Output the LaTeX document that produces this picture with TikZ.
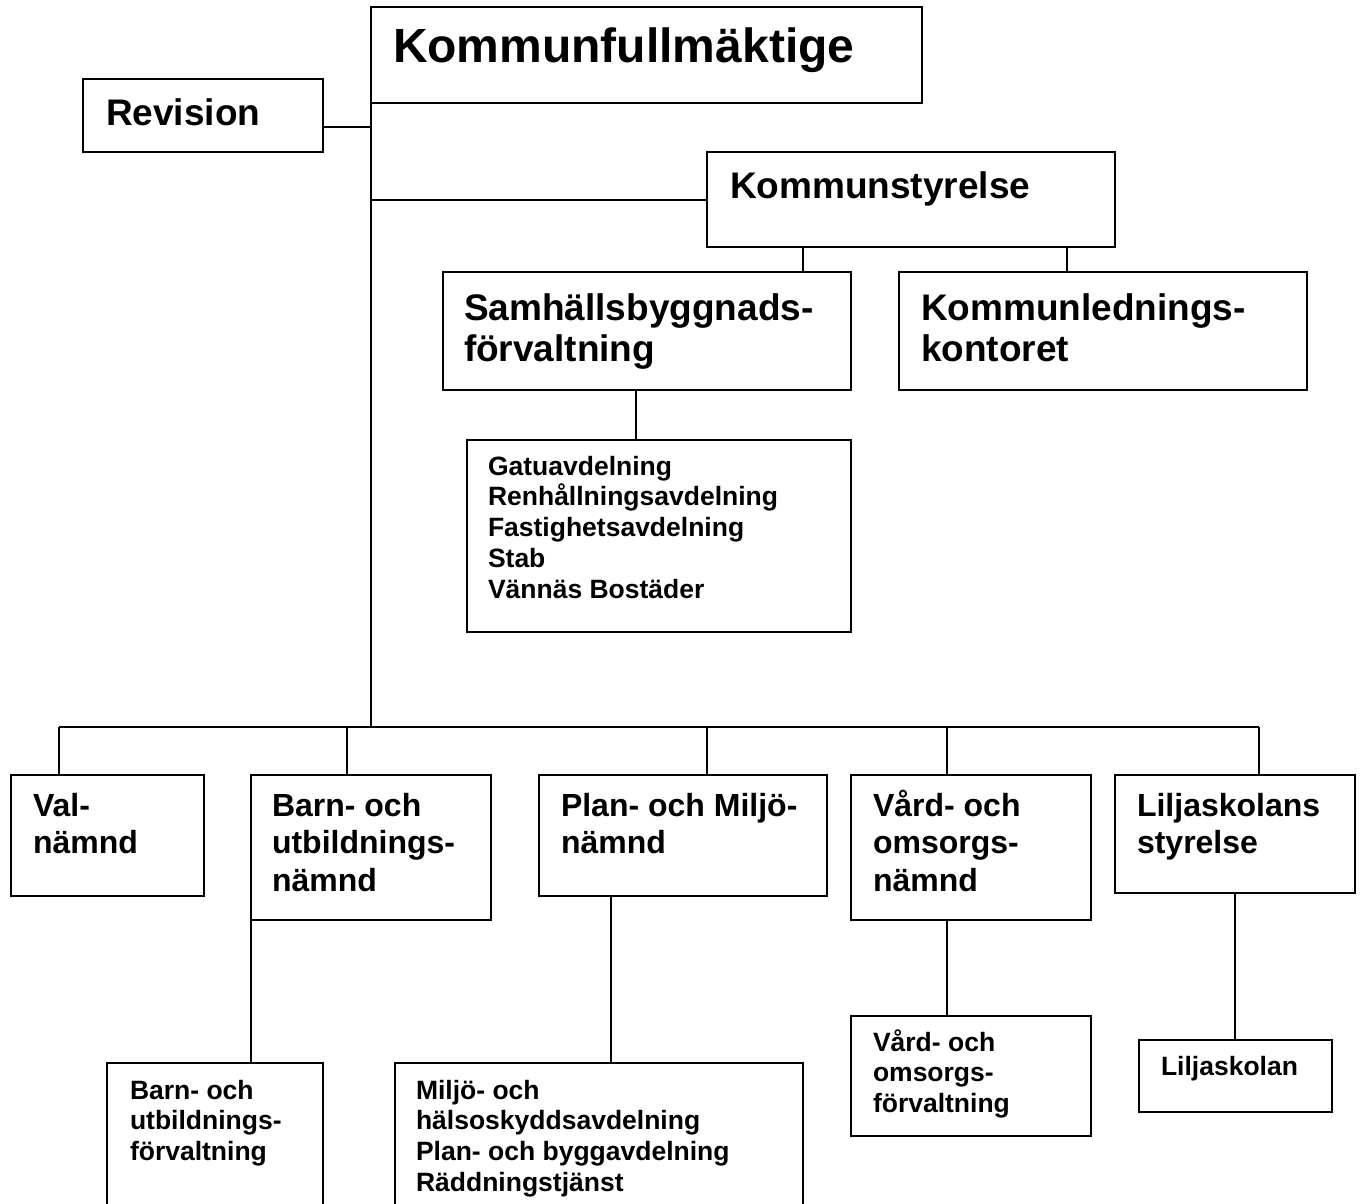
\documentclass[tikz,border=0pt]{standalone}
\usepackage{fontspec}
\setmainfont{Liberation Sans}
\begin{document}
\begin{tikzpicture}[x=1pt,y=-1pt,
  box/.style={draw, line width=2pt, rectangle, inner sep=0pt, outer sep=0pt, anchor=north west},
  big/.style={font=\bfseries\fontsize{48}{55}\selectfont},
  lvl/.style={font=\bfseries\fontsize{37}{41.4}\selectfont},
  mid/.style={font=\bfseries\fontsize{32}{37.5}\selectfont},
  sml/.style={font=\bfseries\fontsize{26.5}{30.8}\selectfont},
  lbl/.style={inner sep=0pt, outer sep=0pt, anchor=base west, align=left},
  conn/.style={line width=2pt}]
\useasboundingbox (0,0) rectangle (1363,1204);
\clip (0,0) rectangle (1363,1204);
% boxes
\node[box, minimum width=551pt, minimum height=96pt]  (kf)    at (371,7)    {};
\node[box, minimum width=240pt, minimum height=73pt]  (rev)   at (83,79)    {};
\node[box, minimum width=408pt, minimum height=95pt]  (ks)    at (707,152)  {};
\node[box, minimum width=408pt, minimum height=118pt] (samh)  at (443,272)  {};
\node[box, minimum width=408pt, minimum height=118pt] (kl)    at (899,272)  {};
\node[box, minimum width=384pt, minimum height=192pt] (gatu)  at (467,440)  {};
\node[box, minimum width=193pt, minimum height=121pt] (val)   at (11,775)   {};
\node[box, minimum width=240pt, minimum height=145pt] (barn)  at (251,775)  {};
\node[box, minimum width=288pt, minimum height=121pt] (plan)  at (539,775)  {};
\node[box, minimum width=240pt, minimum height=145pt] (vard)  at (851,775)  {};
\node[box, minimum width=240pt, minimum height=118pt] (lilja) at (1115,775) {};
\node[box, minimum width=216pt, minimum height=170pt] (barnf) at (107,1063) {};
\node[box, minimum width=408pt, minimum height=170pt] (miljo) at (395,1063) {};
\node[box, minimum width=240pt, minimum height=120pt] (vardf) at (851,1016) {};
\node[box, minimum width=193pt, minimum height=72pt]  (liljas) at (1139,1040) {};
% texts (anchor = baseline of the last line)
\node[lbl, big] (kf-t)    at (393,63)     {Kommunfullmäktige};
\node[lbl, lvl] (rev-t)   at (106,126)    {Revision};
\node[lbl, lvl] (ks-t)    at (730,198)    {Kommunstyrelse};
\node[lbl, lvl] (samh-t)  at (464,361.4)  {Samhällsbyggnads-\\förvaltning};
\node[lbl, lvl] (kl-t)    at (921,361.4)  {Kommunlednings-\\kontoret};
\node[lbl, sml] (gatu-t)  at (488,598.2)  {Gatuavdelning\\Renhållningsavdelning\\Fastighetsavdelning\\Stab\\Vännäs Bostäder};
\node[lbl, mid] (val-t)   at (33,853.5)   {Val-\\nämnd};
\node[lbl, mid] (barn-t)  at (272,891)    {Barn- och\\utbildnings-\\nämnd};
\node[lbl, mid] (plan-t)  at (561,853.5)  {Plan- och Miljö-\\nämnd};
\node[lbl, mid] (vard-t)  at (873,891)    {Vård- och\\omsorgs-\\nämnd};
\node[lbl, mid] (lilja-t) at (1137,853.5) {Liljaskolans\\styrelse};
\node[lbl, sml] (barnf-t) at (130,1160.6) {Barn- och\\utbildnings-\\förvaltning};
\node[lbl, sml] (miljo-t) at (416,1191.4) {Miljö- och\\hälsoskyddsavdelning\\Plan- och byggavdelning\\Räddningstjänst};
\node[lbl, sml] (vardf-t) at (873,1112.6) {Vård- och\\omsorgs-\\förvaltning};
\node[lbl, sml] (liljas-t) at (1161,1075) {Liljaskolan};
% connectors
\coordinate (bus)  at (371,727);
\coordinate (busL) at (59,727);
\coordinate (busR) at (1259,727);
\coordinate (jr)   at (371,127);
\coordinate (jk)   at (371,200);
\draw[conn] (kf.south west) -- (bus);
\draw[conn] (jr) -- (jr -| rev.east);
\draw[conn] (jk) -- (jk -| ks.west);
\draw[conn] (803,0 |- ks.south) -- (803,0 |- samh.north);
\draw[conn] (1067,0 |- ks.south) -- (1067,0 |- kl.north);
\draw[conn] (636,0 |- samh.south) -- (636,0 |- gatu.north);
\draw[conn] (busL) -- (busR);
\draw[conn] (busL) -- (busL |- val.north);
\draw[conn] (347,0 |- bus) -- (347,0 |- barn.north);
\draw[conn] (707,0 |- bus) -- (707,0 |- plan.north);
\draw[conn] (947,0 |- bus) -- (947,0 |- vard.north);
\draw[conn] (busR) -- (busR |- lilja.north);
\draw[conn] (barn.south west) -- (barn.west |- barnf.north);
\draw[conn] (611,0 |- plan.south) -- (611,0 |- miljo.north);
\draw[conn] (947,0 |- vard.south) -- (947,0 |- vardf.north);
\draw[conn] (1235,0 |- lilja.south) -- (1235,0 |- liljas.north);
\end{tikzpicture}
\end{document}
